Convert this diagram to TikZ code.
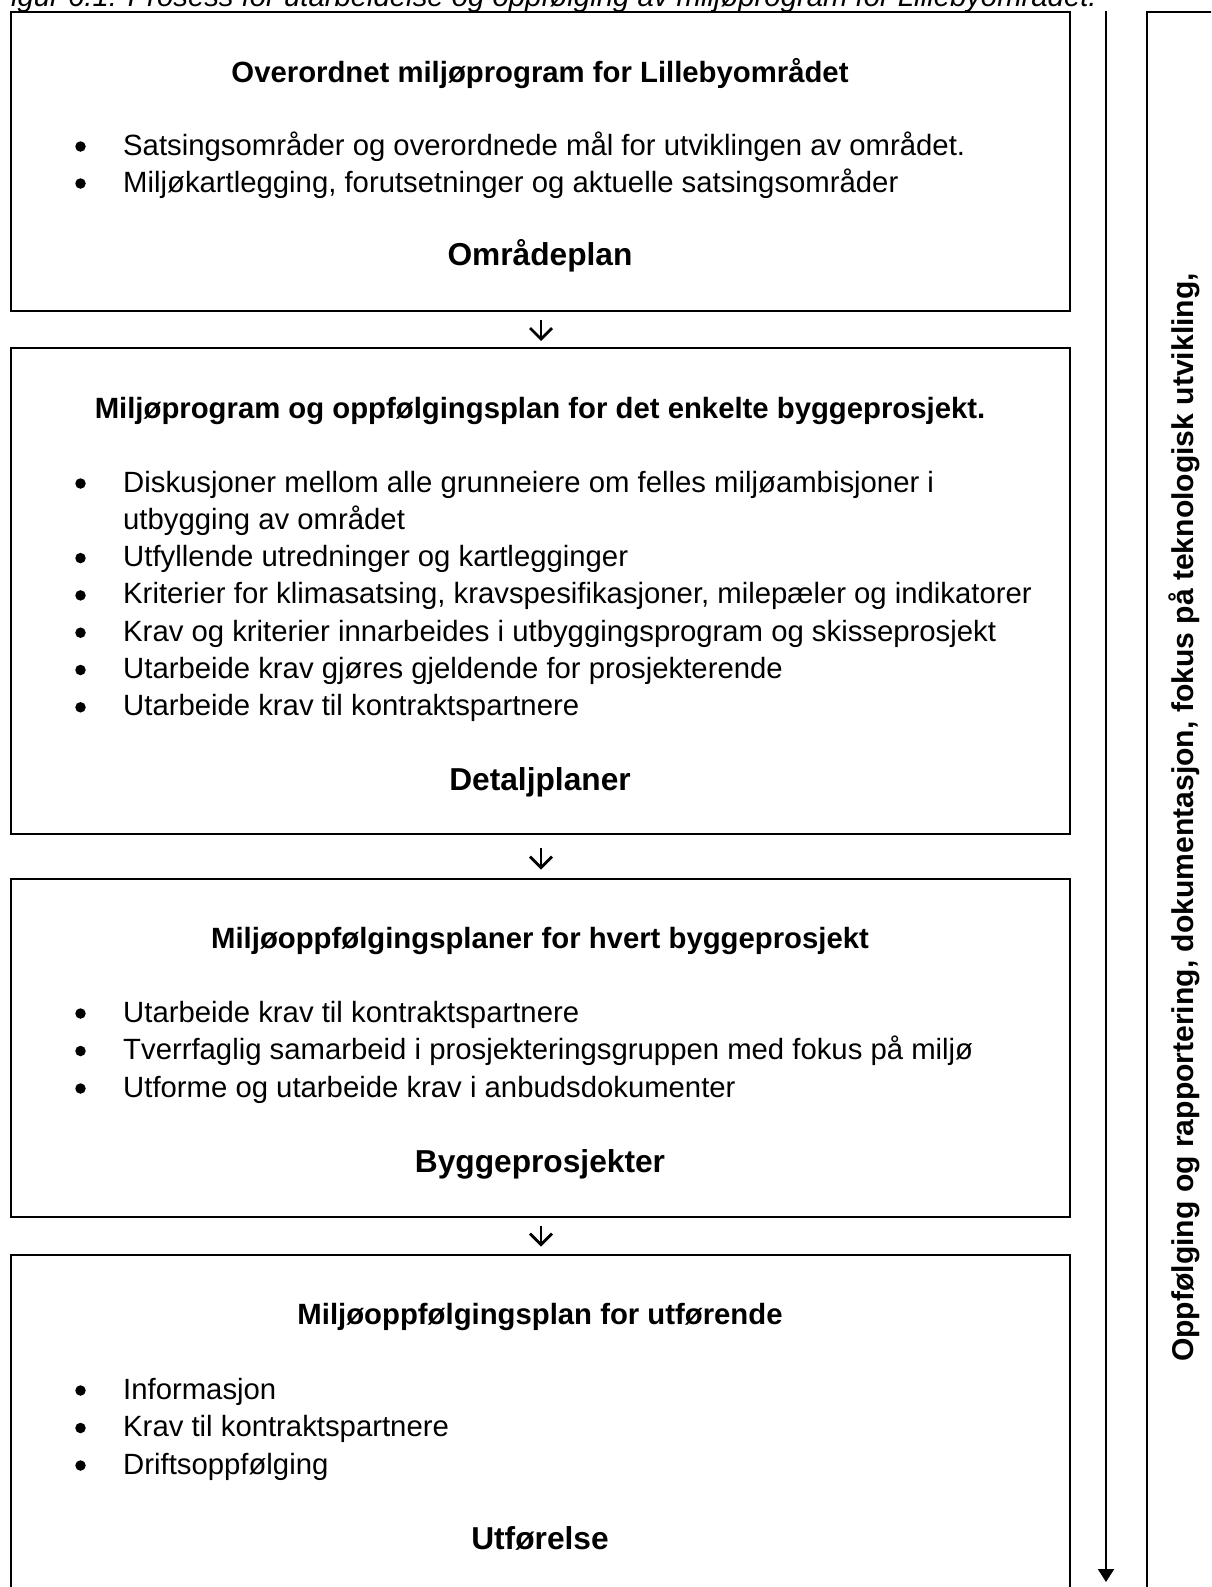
\documentclass[tikz,border=0pt]{standalone}
\usepackage{fontspec}
\setmainfont{Liberation Sans}
\usetikzlibrary{arrows.meta}
\begin{document}
\begin{tikzpicture}[x=1pt,y=-1pt,
  box/.style={draw, line width=2pt, inner sep=0pt, anchor=north west},
  body/.style={font=\fontsize{29.3}{36}\selectfont, inner sep=0pt, anchor=base west},
  dot/.style={circle, fill=black, inner sep=0pt, minimum size=10.5pt},
  ttl/.style={font=\bfseries\fontsize{29.3}{36}\selectfont, inner sep=0pt, anchor=base},
  hd/.style={font=\bfseries\fontsize{31.7}{38}\selectfont, inner sep=0pt, anchor=base},
  captext/.style={font=\itshape\fontsize{29.3}{36}\selectfont, inner sep=0pt, anchor=base east},
  side/.style={font=\bfseries\fontsize{30.1}{36}\selectfont, inner sep=0pt, anchor=base west, rotate=90},
  flowarr/.style={line width=2.8pt, -{Straight Barb[length=11pt,width=22pt]}},
  sidearr/.style={line width=2pt, -{Triangle[length=13pt,width=16pt]}}
]
\useasboundingbox (0,0) rectangle (1211,1587);
\clip (0,0) rectangle (1211,1587);

% caption (cut at top)
\node[captext] (captn) at (1097,7) {Figur 6.1: Prosess for utarbeidelse og oppfølging av miljøprogram for Lillebyområdet.};

% boxes
\node[box, minimum width=1059pt, minimum height=299pt] (b1) at (10,11) {};
\node[box, minimum width=1059pt, minimum height=486pt] (b2) at (10,347) {};
\node[box, minimum width=1059pt, minimum height=338pt] (b3) at (10,878) {};
\node[box, minimum width=1059pt, minimum height=360pt] (b4) at (10,1254) {};
\node[box, minimum width=120pt, minimum height=1620pt] (rb) at (1146,11) {};

% box 1
\node[ttl] (t1) at (540,82) {Overordnet miljøprogram for Lillebyområdet};
\node[dot] (d11) at (80.5,146.5) {};
\node[body] (l11) at (123,155) {Satsingsområder og overordnede mål for utviklingen av området.};
\node[dot] (d12) at (80.5,183.5) {};
\node[body] (l12) at (123,192) {Miljøkartlegging, forutsetninger og aktuelle satsingsområder};
\node[hd] (h1) at (540,265) {Områdeplan};

% box 2
\node[ttl] (t2) at (540,418) {Miljøprogram og oppfølgingsplan for det enkelte byggeprosjekt.};
\node[dot] (d21) at (80.5,483.5) {};
\node[body] (l21) at (123,492) {Diskusjoner mellom alle grunneiere om felles miljøambisjoner i};
\node[body] (l21b) at (123,529.3) {utbygging av området};
\node[dot] (d22) at (80.5,558.1) {};
\node[body] (l22) at (123,566.6) {Utfyllende utredninger og kartlegginger};
\node[dot] (d23) at (80.5,595.4) {};
\node[body] (l23) at (123,603.9) {Kriterier for klimasatsing, kravspesifikasjoner, milepæler og indikatorer};
\node[dot] (d24) at (80.5,632.7) {};
\node[body] (l24) at (123,641.2) {Krav og kriterier innarbeides i utbyggingsprogram og skisseprosjekt};
\node[dot] (d25) at (80.5,670) {};
\node[body] (l25) at (123,678.5) {Utarbeide krav gjøres gjeldende for prosjekterende};
\node[dot] (d26) at (80.5,707.3) {};
\node[body] (l26) at (123,715.8) {Utarbeide krav til kontraktspartnere};
\node[hd] (h2) at (540,790) {Detaljplaner};

% box 3
\node[ttl] (t3) at (540,948) {Miljøoppfølgingsplaner for hvert byggeprosjekt};
\node[dot] (d31) at (80.5,1013.5) {};
\node[body] (l31) at (123,1022) {Utarbeide krav til kontraktspartnere};
\node[dot] (d32) at (80.5,1051) {};
\node[body] (l32) at (123,1059.5) {Tverrfaglig samarbeid i prosjekteringsgruppen med fokus på miljø};
\node[dot] (d33) at (80.5,1088.5) {};
\node[body] (l33) at (123,1097) {Utforme og utarbeide krav i anbudsdokumenter};
\node[hd] (h3) at (540,1172) {Byggeprosjekter};

% box 4
\node[ttl] (t4) at (540,1324) {Miljøoppfølgingsplan for utførende};
\node[dot] (d41) at (80.5,1390.5) {};
\node[body] (l41) at (123,1399) {Informasjon};
\node[dot] (d42) at (80.5,1428) {};
\node[body] (l42) at (123,1436.5) {Krav til kontraktspartnere};
\node[dot] (d43) at (80.5,1465.5) {};
\node[body] (l43) at (123,1474) {Driftsoppfølging};
\node[hd] (h4) at (540,1549) {Utførelse};

% arrows between boxes
\draw[flowarr, shorten <=8pt, shorten >=6pt] (b1.south -| 541,0) -- (b2.north -| 541,0);
\draw[flowarr, shorten <=13pt, shorten >=8.5pt] (b2.south -| 541,0) -- (b3.north -| 541,0);
\draw[flowarr, shorten <=7.5pt, shorten >=7.5pt] (b3.south -| 541,0) -- (b4.north -| 541,0);

% side arrow and text
\coordinate (atop) at (1106,11);
\coordinate (abot) at (1106,1582);
\draw[sidearr] (atop) -- (abot);
\node[side] (st) at (1193,1362) {Oppfølging og rapportering, dokumentasjon, fokus på teknologisk utvikling,};
\end{tikzpicture}
\end{document}
